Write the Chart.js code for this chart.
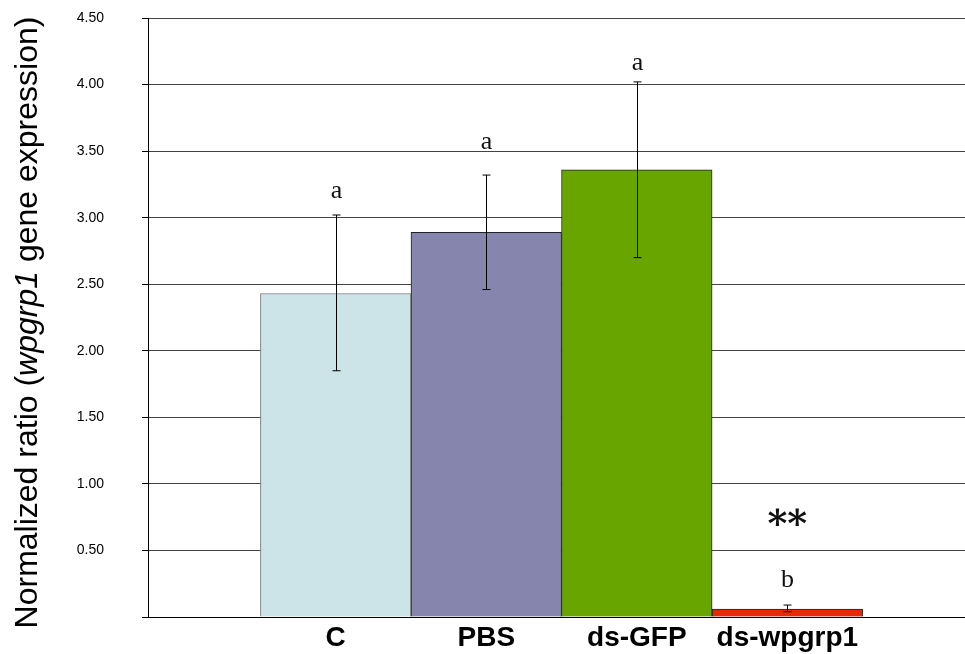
<!DOCTYPE html>
<html>
<head>
<meta charset="utf-8">
<script src="https://cdn.jsdelivr.net/npm/chart.js@4/dist/chart.umd.min.js"></script>
<style>
html,body{margin:0;padding:0;background:#fff;overflow:hidden}
</style>
</head>
<body>
<canvas id="c" width="965" height="654" style="width:965px;height:654px;display:block"></canvas>
<script>
// ── DATA ──
const categories=['C','PBS','ds-GFP','ds-wpgrp1'];
const means=[2.43,2.89,3.36,0.06];
const errHigh=[3.02,3.32,4.02,0.09];
const errLow=[1.85,2.46,2.70,0.04];
const letters=['a','a','a','b'];
const letterY=[3.20,3.57,4.16,0.28];
const starY=0.73;
const yTicks=[0,0.5,1,1.5,2,2.5,3,3.5,4,4.5];
const barColors=['#cce4e8','#8585ad','#69a500','#e52b00'];
const barBorders=['#777777','#222222','#222222','#222222'];

// error bars + letters + italic y title
const extras={
  id:'extras',
  afterDatasetsDraw(chart){
    const {ctx,scales:{x,y}}=chart;
    ctx.save();
    ctx.strokeStyle='#000';ctx.lineWidth=1;
    categories.forEach((c,i)=>{
      const px=Math.round(x.getPixelForValue(i))+0.5;
      const yt=y.getPixelForValue(errHigh[i]),yb=y.getPixelForValue(errLow[i]);
      ctx.beginPath();
      ctx.moveTo(px,yt);ctx.lineTo(px,yb);
      ctx.moveTo(px-4,yt);ctx.lineTo(px+4,yt);
      ctx.moveTo(px-4,yb);ctx.lineTo(px+4,yb);
      ctx.stroke();
      ctx.fillStyle='#111';ctx.font='26px "Liberation Serif"';
      ctx.textAlign='center';ctx.textBaseline='middle';
      ctx.fillText(letters[i],px,y.getPixelForValue(letterY[i]));
    });
    const sx=x.getPixelForValue(3);
    ctx.font='bold 38px "DejaVu Serif"';
    ctx.fillText('**',sx,y.getPixelForValue(starY)+6);
    // y title with italic gene name
    ctx.translate(28,(chart.chartArea.top+chart.chartArea.bottom)/2+5);
    ctx.rotate(-Math.PI/2);
    const parts=[['Normalized ratio (',''],['wpgrp1','italic '],[' gene expression)','']];
    let total=0;
    parts.forEach(p=>{ctx.font=p[1]+'32px "Liberation Sans"';total+=ctx.measureText(p[0]).width});
    let cx=-total/2;
    ctx.textAlign='left';ctx.fillStyle='#000';
    parts.forEach(p=>{ctx.font=p[1]+'32px "Liberation Sans"';ctx.fillText(p[0],cx,0);cx+=ctx.measureText(p[0]).width});
    ctx.restore();
  }
};

new Chart(document.getElementById('c'),{
  type:'bar',
  data:{datasets:[{
    data:means.map((v,i)=>({x:i,y:v})),
    backgroundColor:barColors,
    borderColor:barBorders,
    borderWidth:1,
    categoryPercentage:1,barPercentage:1
  }]},
  options:{
    responsive:false,animation:false,
    layout:{padding:{top:18,right:0,bottom:0,left:0}},
    plugins:{legend:{display:false},tooltip:{enabled:false}},
    scales:{
      x:{type:'linear',min:-1.247,max:4.18,offset:false,
        afterBuildTicks:s=>{s.ticks=categories.map((c,i)=>({value:i}))},
        afterFit:s=>{s.height=37;s.paddingLeft=0;s.paddingRight=0},
        grid:{display:false},
        border:{color:'#000',width:1},
        ticks:{autoSkip:false,maxRotation:0,padding:-4,color:'#000',
          font:{family:'"Liberation Sans"',size:28,weight:'bold'},
          callback:v=>categories[v]??''}
      },
      y:{min:0,max:4.5,
        afterBuildTicks:s=>{s.ticks=yTicks.map(v=>({value:v}))},
        afterFit:s=>{s.width=148;s.paddingTop=0;s.paddingBottom=0},
        grid:{color:'#444',tickLength:6,tickColor:'#000'},
        border:{color:'#000',width:1},
        ticks:{padding:38,color:'#000',font:{family:'"Liberation Sans"',size:14},
          callback:v=>v===0?'':v.toFixed(2)}
      }
    }
  },
  plugins:[extras]
});
</script>
</body>
</html>
